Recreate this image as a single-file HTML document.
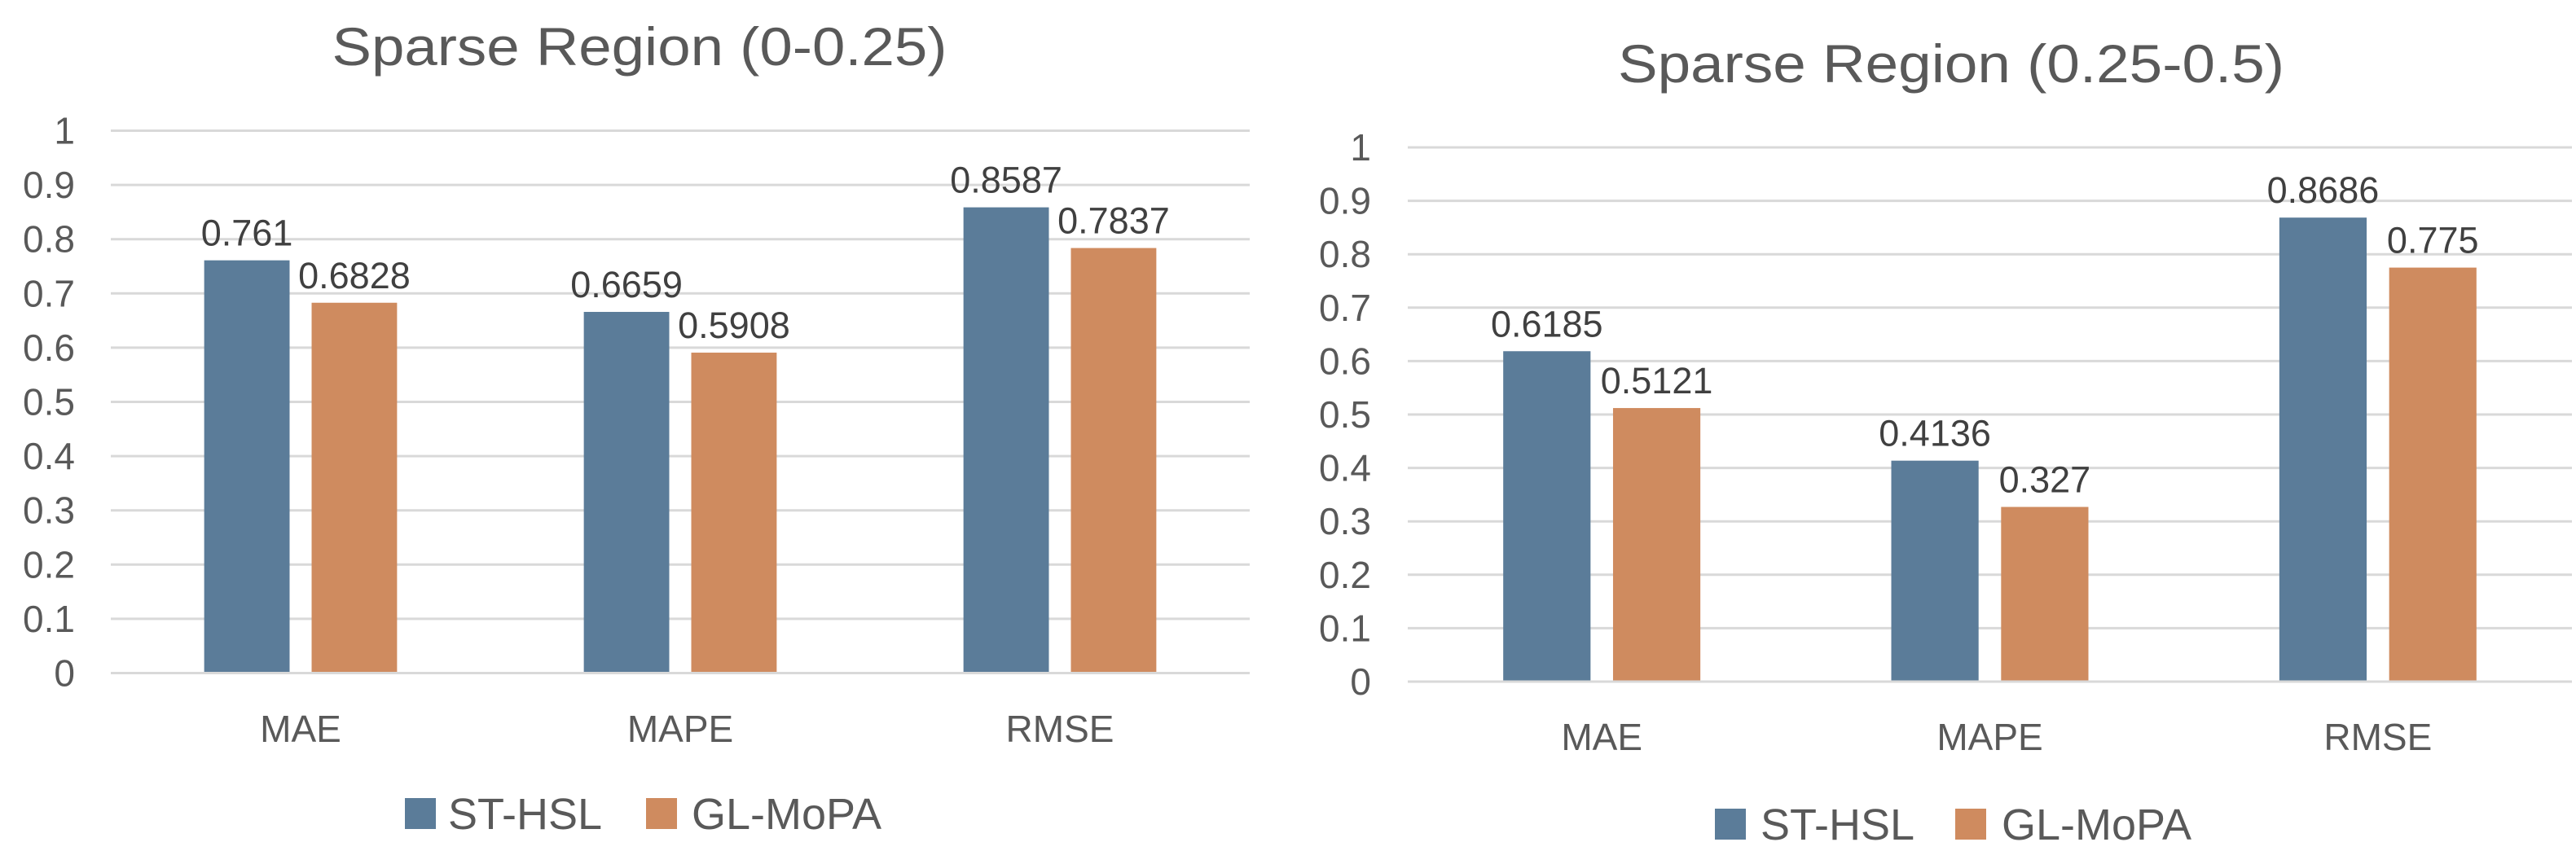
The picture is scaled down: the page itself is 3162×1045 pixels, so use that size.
<!DOCTYPE html>
<html><head><meta charset="utf-8"><style>
html,body{margin:0;padding:0;background:#fff;}
svg{display:block;font-family:"Liberation Sans",sans-serif;}
</style></head><body>
<svg id="chart" width="3162" height="1045" viewBox="0 0 3162 1045" xmlns="http://www.w3.org/2000/svg"></svg>
<script>
const categories = ["MAE", "MAPE", "RMSE"];
const seriesNames = ["ST-HSL", "GL-MoPA"];
const leftStHsl = [0.761, 0.6659, 0.8587];
const leftGlMopa = [0.6828, 0.5908, 0.7837];
const rightStHsl = [0.6185, 0.4136, 0.8686];
const rightGlMopa = [0.5121, 0.327, 0.775];
const tickLabels = ["0", "0.1", "0.2", "0.3", "0.4", "0.5", "0.6", "0.7", "0.8", "0.9", "1"];
const titles = ["Sparse Region (0-0.25)", "Sparse Region (0.25-0.5)"];

const NS = "http://www.w3.org/2000/svg";
const svg = document.getElementById("chart");
const colors = ["#5b7c99", "#cf8b5f"];
function mk(tag, attrs, parent) {
  const e = document.createElementNS(NS, tag);
  for (const k in attrs) e.setAttribute(k, attrs[k]);
  (parent || svg).appendChild(e);
  return e;
}
const panels = [
  {x0:136, x1:1534, yTop:160.5, yBot:826.5, tickX:92, titleX:785, titleY:80, titleW:755, catY:911, legY:999, leg:[497,550,793,849], data:[leftStHsl,leftGlMopa]},
  {x0:1728, x1:3157, yTop:181, yBot:837, tickX:1683, titleX:2395, titleY:101, titleW:818, catY:921, legY:1012, leg:[2105,2161,2400,2457], data:[rightStHsl,rightGlMopa]}
];
panels.forEach((p, pi) => {
  const g = mk("g", {});
  
  
  const yScale = v => p.yBot - v * (p.yBot - p.yTop);
  const groupW = (p.x1 - p.x0) / categories.length;
  const t = mk("text", {x:p.titleX, y:p.titleY, "text-anchor":"middle", "font-size":66, fill:"#595959", textLength:p.titleW, lengthAdjust:"spacingAndGlyphs"}, g);
  t.textContent = titles[pi];
  
  
  tickLabels.forEach((lab, i) => {
    const v = parseFloat(lab);
    const y = yScale(v);
    const l = mk("line", {x1:p.x0, x2:p.x1, y1:y, y2:y, stroke:"#d9d9d9", "stroke-width":3}, g);
    
    
    const tx = mk("text", {x:p.tickX, y:y + 16, "text-anchor":"end", "font-size":46, fill:"#595959"}, g);
    tx.textContent = lab;
    
    
  });
  const barW = groupW * 0.225, gap = groupW * 0.058;
  categories.forEach((c, ci) => {
    const cx = p.x0 + groupW * (ci + 0.5);
    p.data.forEach((arr, si) => {
      const v = arr[ci];
      const bx = si === 0 ? cx - gap / 2 - barW : cx + gap / 2;
      const r = mk("rect", {x:bx, y:yScale(v), width:barW, height:p.yBot - yScale(v) - 1.5, fill:colors[si]}, g);
      
      
      const lt = mk("text", {x:bx + barW / 2, y:yScale(v) - 18, "text-anchor":"middle", "font-size":45, fill:"#404040"}, g);
      lt.textContent = String(v);
      
      
    });
    const ct = mk("text", {x:cx, y:p.catY, "text-anchor":"middle", "font-size":46, fill:"#595959"}, g);
    ct.textContent = c;
    
    
  });
  seriesNames.forEach((s, si) => {
    const sq = mk("rect", {x:p.leg[si * 2], y:p.legY - 19, width:38, height:38, fill:colors[si]}, g);
    
    
    const lt = mk("text", {x:p.leg[si * 2 + 1], y:p.legY + 19, "font-size":54, fill:"#595959"}, g);
    lt.textContent = s;
    
    
  });
});
</script>
</body></html>
